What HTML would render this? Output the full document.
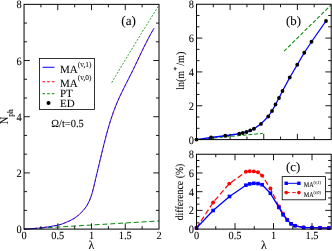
<!DOCTYPE html>
<html><head><meta charset="utf-8"><title>plot</title>
<style>
html,body{margin:0;padding:0;background:#fff;}
body{width:332px;height:251px;overflow:hidden;}
svg{display:block;font-family:"Liberation Serif",serif;fill:#000;text-rendering:geometricPrecision;}
</style></head><body>
<svg width="332" height="251" viewBox="0 0 332 251">
<rect x="0" y="0" width="332" height="251" fill="#fff"/>
<polyline points="24.05,229.10 159.00,220.95" fill="none" stroke="#008b00" stroke-width="1" stroke-dasharray="5,2.85" stroke-linejoin="round"/>
<polyline points="111.70,82.70 115.86,75.65 120.06,68.61 124.28,61.56 128.52,54.52 132.79,47.47 137.09,40.43 141.42,33.38 145.78,26.34 150.16,19.29 154.56,12.25 159.00,5.20" fill="none" stroke="#008b00" stroke-width="0.8" stroke-dasharray="2,1.5" stroke-linejoin="round"/>
<polyline points="24.05,229.10 33.00,228.60 40.90,227.90 50.00,226.60 57.80,225.20 61.50,224.20 65.00,222.80 69.50,220.90 74.00,218.50 78.50,215.20 82.90,210.90 86.01,207.00 88.34,203.00 90.14,199.00 91.55,195.00 92.71,191.00 93.73,187.00 94.68,183.00 95.62,179.00 96.56,175.00 97.50,171.00 98.45,167.00 99.41,163.00 100.37,159.00 101.34,155.00 102.30,151.00 103.28,147.00 104.27,143.00 105.29,139.00 106.34,135.00 107.43,131.00 108.57,127.00 109.77,123.00 111.04,119.00 112.38,115.00 113.81,111.00 115.33,107.00 116.95,103.00 118.68,99.00 120.51,95.00 122.43,91.00 124.41,87.00 126.43,83.00 128.47,79.00 130.49,75.00 132.49,71.00 134.43,67.00 136.34,63.00 138.24,59.00 140.13,55.00 142.04,51.00 143.98,47.00 145.97,43.00 148.03,39.00 150.17,35.00 152.41,31.00 154.00,28.30" fill="none" stroke="#ff0000" stroke-width="0.85" stroke-dasharray="3,2" stroke-linejoin="round"/>
<polyline points="24.05,229.10 33.00,228.60 40.90,227.90 50.00,226.60 57.80,225.20 61.50,224.20 65.00,222.80 69.50,220.90 74.00,218.50 78.50,215.20 82.90,210.90 86.01,207.00 88.34,203.00 90.14,199.00 91.55,195.00 92.71,191.00 93.73,187.00 94.68,183.00 95.62,179.00 96.56,175.00 97.50,171.00 98.45,167.00 99.41,163.00 100.37,159.00 101.34,155.00 102.30,151.00 103.28,147.00 104.27,143.00 105.29,139.00 106.34,135.00 107.43,131.00 108.57,127.00 109.77,123.00 111.04,119.00 112.38,115.00 113.81,111.00 115.33,107.00 116.95,103.00 118.68,99.00 120.51,95.00 122.43,91.00 124.41,87.00 126.43,83.00 128.47,79.00 130.49,75.00 132.49,71.00 134.43,67.00 136.34,63.00 138.24,59.00 140.13,55.00 142.04,51.00 143.98,47.00 145.97,43.00 148.03,39.00 150.17,35.00 152.41,31.00 154.00,28.30" fill="none" stroke="#0000ff" stroke-width="0.85" stroke-linejoin="round"/>
<rect x="24.05" y="4.35" width="134.95" height="224.75" fill="none" stroke="#000" stroke-width="1.0"/>
<line x1="57.79" y1="229.10" x2="57.79" y2="223.30" stroke="#000" stroke-width="0.9" />
<line x1="57.79" y1="4.35" x2="57.79" y2="10.15" stroke="#000" stroke-width="0.9" />
<line x1="91.52" y1="229.10" x2="91.52" y2="223.30" stroke="#000" stroke-width="0.9" />
<line x1="91.52" y1="4.35" x2="91.52" y2="10.15" stroke="#000" stroke-width="0.9" />
<line x1="125.26" y1="229.10" x2="125.26" y2="223.30" stroke="#000" stroke-width="0.9" />
<line x1="125.26" y1="4.35" x2="125.26" y2="10.15" stroke="#000" stroke-width="0.9" />
<line x1="40.92" y1="229.10" x2="40.92" y2="226.10" stroke="#000" stroke-width="0.9" />
<line x1="40.92" y1="4.35" x2="40.92" y2="7.35" stroke="#000" stroke-width="0.9" />
<line x1="74.66" y1="229.10" x2="74.66" y2="226.10" stroke="#000" stroke-width="0.9" />
<line x1="74.66" y1="4.35" x2="74.66" y2="7.35" stroke="#000" stroke-width="0.9" />
<line x1="108.39" y1="229.10" x2="108.39" y2="226.10" stroke="#000" stroke-width="0.9" />
<line x1="108.39" y1="4.35" x2="108.39" y2="7.35" stroke="#000" stroke-width="0.9" />
<line x1="142.13" y1="229.10" x2="142.13" y2="226.10" stroke="#000" stroke-width="0.9" />
<line x1="142.13" y1="4.35" x2="142.13" y2="7.35" stroke="#000" stroke-width="0.9" />
<line x1="24.05" y1="172.91" x2="29.85" y2="172.91" stroke="#000" stroke-width="0.9" />
<line x1="159.00" y1="172.91" x2="153.20" y2="172.91" stroke="#000" stroke-width="0.9" />
<line x1="24.05" y1="116.72" x2="29.85" y2="116.72" stroke="#000" stroke-width="0.9" />
<line x1="159.00" y1="116.72" x2="153.20" y2="116.72" stroke="#000" stroke-width="0.9" />
<line x1="24.05" y1="60.54" x2="29.85" y2="60.54" stroke="#000" stroke-width="0.9" />
<line x1="159.00" y1="60.54" x2="153.20" y2="60.54" stroke="#000" stroke-width="0.9" />
<line x1="24.05" y1="210.37" x2="27.05" y2="210.37" stroke="#000" stroke-width="0.9" />
<line x1="159.00" y1="210.37" x2="156.00" y2="210.37" stroke="#000" stroke-width="0.9" />
<line x1="24.05" y1="191.64" x2="27.05" y2="191.64" stroke="#000" stroke-width="0.9" />
<line x1="159.00" y1="191.64" x2="156.00" y2="191.64" stroke="#000" stroke-width="0.9" />
<line x1="24.05" y1="154.18" x2="27.05" y2="154.18" stroke="#000" stroke-width="0.9" />
<line x1="159.00" y1="154.18" x2="156.00" y2="154.18" stroke="#000" stroke-width="0.9" />
<line x1="24.05" y1="135.45" x2="27.05" y2="135.45" stroke="#000" stroke-width="0.9" />
<line x1="159.00" y1="135.45" x2="156.00" y2="135.45" stroke="#000" stroke-width="0.9" />
<line x1="24.05" y1="98.00" x2="27.05" y2="98.00" stroke="#000" stroke-width="0.9" />
<line x1="159.00" y1="98.00" x2="156.00" y2="98.00" stroke="#000" stroke-width="0.9" />
<line x1="24.05" y1="79.27" x2="27.05" y2="79.27" stroke="#000" stroke-width="0.9" />
<line x1="159.00" y1="79.27" x2="156.00" y2="79.27" stroke="#000" stroke-width="0.9" />
<line x1="24.05" y1="41.81" x2="27.05" y2="41.81" stroke="#000" stroke-width="0.9" />
<line x1="159.00" y1="41.81" x2="156.00" y2="41.81" stroke="#000" stroke-width="0.9" />
<line x1="24.05" y1="23.08" x2="27.05" y2="23.08" stroke="#000" stroke-width="0.9" />
<line x1="159.00" y1="23.08" x2="156.00" y2="23.08" stroke="#000" stroke-width="0.9" />
<rect x="39.5" y="58.4" width="55.0" height="51.0" fill="#fff" stroke="#000" stroke-width="0.8"/>
<line x1="42.50" y1="67.25" x2="54.50" y2="67.25" stroke="#0000ff" stroke-width="1" />
<line x1="42.50" y1="81.75" x2="54.50" y2="81.75" stroke="#ff0000" stroke-width="1" stroke-dasharray="2.7,1.9" />
<line x1="42.50" y1="93.75" x2="54.50" y2="93.75" stroke="#008b00" stroke-width="1" stroke-dasharray="2.7,1.9" />
<circle cx="48.5" cy="103" r="2.0" fill="#000"/>
<polyline points="196.50,139.60 262.75,133.40" fill="none" stroke="#008b00" stroke-width="1.0" stroke-dasharray="3.8,2" stroke-linejoin="round"/>
<polyline points="284.00,51.25 331.00,5.00" fill="none" stroke="#008b00" stroke-width="1.05" stroke-dasharray="3.8,2" stroke-linejoin="round"/>
<polyline points="196.50,139.60 211.00,137.50 225.25,135.75 239.25,133.75 242.75,133.00 246.50,132.00 250.25,130.40 254.00,128.75 261.00,123.90 268.25,116.50 272.00,111.00 275.50,104.50 279.00,98.00 282.50,91.00 289.75,77.50 297.25,64.75 304.25,52.75 311.50,41.75 326.00,21.00" fill="none" stroke="#0000ff" stroke-width="1.3" stroke-linejoin="round"/>
<circle cx="196.50" cy="139.60" r="1.9" fill="#000"/>
<circle cx="211.00" cy="137.50" r="1.9" fill="#000"/>
<circle cx="225.25" cy="135.75" r="1.9" fill="#000"/>
<circle cx="239.25" cy="133.75" r="1.9" fill="#000"/>
<circle cx="242.75" cy="133.00" r="1.9" fill="#000"/>
<circle cx="246.50" cy="132.00" r="1.9" fill="#000"/>
<circle cx="250.25" cy="130.40" r="1.9" fill="#000"/>
<circle cx="254.00" cy="128.75" r="1.9" fill="#000"/>
<circle cx="261.00" cy="123.90" r="1.9" fill="#000"/>
<circle cx="268.25" cy="116.50" r="1.9" fill="#000"/>
<circle cx="272.00" cy="111.00" r="1.9" fill="#000"/>
<circle cx="275.50" cy="104.50" r="1.9" fill="#000"/>
<circle cx="279.00" cy="98.00" r="1.9" fill="#000"/>
<circle cx="282.50" cy="91.00" r="1.9" fill="#000"/>
<circle cx="289.75" cy="77.50" r="1.9" fill="#000"/>
<circle cx="297.25" cy="64.75" r="1.9" fill="#000"/>
<circle cx="304.25" cy="52.75" r="1.9" fill="#000"/>
<circle cx="311.50" cy="41.75" r="1.9" fill="#000"/>
<circle cx="326.00" cy="21.00" r="1.9" fill="#000"/>
<rect x="196.50" y="4.25" width="134.70" height="135.35" fill="none" stroke="#000" stroke-width="1.0"/>
<line x1="230.12" y1="139.60" x2="230.12" y2="133.80" stroke="#000" stroke-width="0.9" />
<line x1="230.12" y1="4.25" x2="230.12" y2="10.05" stroke="#000" stroke-width="0.9" />
<line x1="263.75" y1="139.60" x2="263.75" y2="133.80" stroke="#000" stroke-width="0.9" />
<line x1="263.75" y1="4.25" x2="263.75" y2="10.05" stroke="#000" stroke-width="0.9" />
<line x1="297.38" y1="139.60" x2="297.38" y2="133.80" stroke="#000" stroke-width="0.9" />
<line x1="297.38" y1="4.25" x2="297.38" y2="10.05" stroke="#000" stroke-width="0.9" />
<line x1="213.31" y1="139.60" x2="213.31" y2="136.60" stroke="#000" stroke-width="0.9" />
<line x1="213.31" y1="4.25" x2="213.31" y2="7.25" stroke="#000" stroke-width="0.9" />
<line x1="246.94" y1="139.60" x2="246.94" y2="136.60" stroke="#000" stroke-width="0.9" />
<line x1="246.94" y1="4.25" x2="246.94" y2="7.25" stroke="#000" stroke-width="0.9" />
<line x1="280.56" y1="139.60" x2="280.56" y2="136.60" stroke="#000" stroke-width="0.9" />
<line x1="280.56" y1="4.25" x2="280.56" y2="7.25" stroke="#000" stroke-width="0.9" />
<line x1="314.19" y1="139.60" x2="314.19" y2="136.60" stroke="#000" stroke-width="0.9" />
<line x1="314.19" y1="4.25" x2="314.19" y2="7.25" stroke="#000" stroke-width="0.9" />
<line x1="196.50" y1="105.76" x2="202.30" y2="105.76" stroke="#000" stroke-width="0.9" />
<line x1="331.20" y1="105.76" x2="325.40" y2="105.76" stroke="#000" stroke-width="0.9" />
<line x1="196.50" y1="71.92" x2="202.30" y2="71.92" stroke="#000" stroke-width="0.9" />
<line x1="331.20" y1="71.92" x2="325.40" y2="71.92" stroke="#000" stroke-width="0.9" />
<line x1="196.50" y1="38.09" x2="202.30" y2="38.09" stroke="#000" stroke-width="0.9" />
<line x1="331.20" y1="38.09" x2="325.40" y2="38.09" stroke="#000" stroke-width="0.9" />
<line x1="196.50" y1="128.32" x2="199.50" y2="128.32" stroke="#000" stroke-width="0.9" />
<line x1="331.20" y1="128.32" x2="328.20" y2="128.32" stroke="#000" stroke-width="0.9" />
<line x1="196.50" y1="117.04" x2="199.50" y2="117.04" stroke="#000" stroke-width="0.9" />
<line x1="331.20" y1="117.04" x2="328.20" y2="117.04" stroke="#000" stroke-width="0.9" />
<line x1="196.50" y1="94.48" x2="199.50" y2="94.48" stroke="#000" stroke-width="0.9" />
<line x1="331.20" y1="94.48" x2="328.20" y2="94.48" stroke="#000" stroke-width="0.9" />
<line x1="196.50" y1="83.20" x2="199.50" y2="83.20" stroke="#000" stroke-width="0.9" />
<line x1="331.20" y1="83.20" x2="328.20" y2="83.20" stroke="#000" stroke-width="0.9" />
<line x1="196.50" y1="60.65" x2="199.50" y2="60.65" stroke="#000" stroke-width="0.9" />
<line x1="331.20" y1="60.65" x2="328.20" y2="60.65" stroke="#000" stroke-width="0.9" />
<line x1="196.50" y1="49.37" x2="199.50" y2="49.37" stroke="#000" stroke-width="0.9" />
<line x1="331.20" y1="49.37" x2="328.20" y2="49.37" stroke="#000" stroke-width="0.9" />
<line x1="196.50" y1="26.81" x2="199.50" y2="26.81" stroke="#000" stroke-width="0.9" />
<line x1="331.20" y1="26.81" x2="328.20" y2="26.81" stroke="#000" stroke-width="0.9" />
<line x1="196.50" y1="15.53" x2="199.50" y2="15.53" stroke="#000" stroke-width="0.9" />
<line x1="331.20" y1="15.53" x2="328.20" y2="15.53" stroke="#000" stroke-width="0.9" />
<polyline points="196.50,228.00 213.10,202.50 229.30,183.60 245.90,171.80 249.70,171.20 253.80,171.40 258.00,172.30 262.10,175.60 270.40,188.40 278.90,206.40 283.10,213.80 287.30,219.60 291.10,223.60 295.10,225.60 303.60,227.40 312.00,227.70 320.00,227.80 328.90,228.00" fill="none" stroke="#ff0000" stroke-width="1.2" stroke-dasharray="5.5,2.7" stroke-linejoin="round"/>
<circle cx="196.50" cy="228.00" r="1.95" fill="#ff0000"/>
<circle cx="213.10" cy="202.50" r="1.95" fill="#ff0000"/>
<circle cx="229.30" cy="183.60" r="1.95" fill="#ff0000"/>
<circle cx="245.90" cy="171.80" r="1.95" fill="#ff0000"/>
<circle cx="249.70" cy="171.20" r="1.95" fill="#ff0000"/>
<circle cx="253.80" cy="171.40" r="1.95" fill="#ff0000"/>
<circle cx="258.00" cy="172.30" r="1.95" fill="#ff0000"/>
<circle cx="262.10" cy="175.60" r="1.95" fill="#ff0000"/>
<circle cx="270.40" cy="188.40" r="1.95" fill="#ff0000"/>
<circle cx="278.90" cy="206.40" r="1.95" fill="#ff0000"/>
<circle cx="283.10" cy="213.80" r="1.95" fill="#ff0000"/>
<circle cx="287.30" cy="219.60" r="1.95" fill="#ff0000"/>
<circle cx="291.10" cy="223.60" r="1.95" fill="#ff0000"/>
<circle cx="295.10" cy="225.60" r="1.95" fill="#ff0000"/>
<circle cx="303.60" cy="227.40" r="1.95" fill="#ff0000"/>
<circle cx="312.00" cy="227.70" r="1.95" fill="#ff0000"/>
<circle cx="320.00" cy="227.80" r="1.95" fill="#ff0000"/>
<circle cx="328.90" cy="228.00" r="1.95" fill="#ff0000"/>
<polyline points="196.50,228.00 213.10,210.50 229.50,196.50 245.90,185.20 249.70,183.90 253.80,183.30 258.00,183.60 262.10,184.70 270.40,193.30 278.90,207.40 283.10,214.80 287.30,220.10 291.10,223.90 295.10,225.80 303.60,227.50 312.00,227.70 320.00,227.80 328.90,228.00" fill="none" stroke="#0000ff" stroke-width="1.3" stroke-linejoin="round"/>
<rect x="194.70" y="226.20" width="3.6" height="3.6" fill="#0000ff"/>
<rect x="211.30" y="208.70" width="3.6" height="3.6" fill="#0000ff"/>
<rect x="227.70" y="194.70" width="3.6" height="3.6" fill="#0000ff"/>
<rect x="244.10" y="183.40" width="3.6" height="3.6" fill="#0000ff"/>
<rect x="247.90" y="182.10" width="3.6" height="3.6" fill="#0000ff"/>
<rect x="252.00" y="181.50" width="3.6" height="3.6" fill="#0000ff"/>
<rect x="256.20" y="181.80" width="3.6" height="3.6" fill="#0000ff"/>
<rect x="260.30" y="182.90" width="3.6" height="3.6" fill="#0000ff"/>
<rect x="268.60" y="191.50" width="3.6" height="3.6" fill="#0000ff"/>
<rect x="277.10" y="205.60" width="3.6" height="3.6" fill="#0000ff"/>
<rect x="281.30" y="213.00" width="3.6" height="3.6" fill="#0000ff"/>
<rect x="285.50" y="218.30" width="3.6" height="3.6" fill="#0000ff"/>
<rect x="289.30" y="222.10" width="3.6" height="3.6" fill="#0000ff"/>
<rect x="293.30" y="224.00" width="3.6" height="3.6" fill="#0000ff"/>
<rect x="301.80" y="225.70" width="3.6" height="3.6" fill="#0000ff"/>
<rect x="310.20" y="225.90" width="3.6" height="3.6" fill="#0000ff"/>
<rect x="318.20" y="226.00" width="3.6" height="3.6" fill="#0000ff"/>
<rect x="327.10" y="226.20" width="3.6" height="3.6" fill="#0000ff"/>
<rect x="196.50" y="154.25" width="134.70" height="74.85" fill="none" stroke="#000" stroke-width="1.0"/>
<line x1="235.00" y1="229.10" x2="235.00" y2="223.10" stroke="#000" stroke-width="0.9" />
<line x1="235.00" y1="154.25" x2="235.00" y2="160.25" stroke="#000" stroke-width="0.9" />
<line x1="273.50" y1="229.10" x2="273.50" y2="223.10" stroke="#000" stroke-width="0.9" />
<line x1="273.50" y1="154.25" x2="273.50" y2="160.25" stroke="#000" stroke-width="0.9" />
<line x1="312.00" y1="229.10" x2="312.00" y2="223.10" stroke="#000" stroke-width="0.9" />
<line x1="312.00" y1="154.25" x2="312.00" y2="160.25" stroke="#000" stroke-width="0.9" />
<line x1="215.75" y1="229.10" x2="215.75" y2="226.10" stroke="#000" stroke-width="0.9" />
<line x1="215.75" y1="154.25" x2="215.75" y2="157.25" stroke="#000" stroke-width="0.9" />
<line x1="254.25" y1="229.10" x2="254.25" y2="226.10" stroke="#000" stroke-width="0.9" />
<line x1="254.25" y1="154.25" x2="254.25" y2="157.25" stroke="#000" stroke-width="0.9" />
<line x1="292.75" y1="229.10" x2="292.75" y2="226.10" stroke="#000" stroke-width="0.9" />
<line x1="292.75" y1="154.25" x2="292.75" y2="157.25" stroke="#000" stroke-width="0.9" />
<line x1="196.50" y1="210.39" x2="202.50" y2="210.39" stroke="#000" stroke-width="0.9" />
<line x1="331.20" y1="210.39" x2="325.20" y2="210.39" stroke="#000" stroke-width="0.9" />
<line x1="196.50" y1="191.68" x2="202.50" y2="191.68" stroke="#000" stroke-width="0.9" />
<line x1="331.20" y1="191.68" x2="325.20" y2="191.68" stroke="#000" stroke-width="0.9" />
<line x1="196.50" y1="172.96" x2="202.50" y2="172.96" stroke="#000" stroke-width="0.9" />
<line x1="331.20" y1="172.96" x2="325.20" y2="172.96" stroke="#000" stroke-width="0.9" />
<line x1="196.50" y1="222.86" x2="199.50" y2="222.86" stroke="#000" stroke-width="0.9" />
<line x1="331.20" y1="222.86" x2="328.20" y2="222.86" stroke="#000" stroke-width="0.9" />
<line x1="196.50" y1="216.62" x2="199.50" y2="216.62" stroke="#000" stroke-width="0.9" />
<line x1="331.20" y1="216.62" x2="328.20" y2="216.62" stroke="#000" stroke-width="0.9" />
<line x1="196.50" y1="204.15" x2="199.50" y2="204.15" stroke="#000" stroke-width="0.9" />
<line x1="331.20" y1="204.15" x2="328.20" y2="204.15" stroke="#000" stroke-width="0.9" />
<line x1="196.50" y1="197.91" x2="199.50" y2="197.91" stroke="#000" stroke-width="0.9" />
<line x1="331.20" y1="197.91" x2="328.20" y2="197.91" stroke="#000" stroke-width="0.9" />
<line x1="196.50" y1="185.44" x2="199.50" y2="185.44" stroke="#000" stroke-width="0.9" />
<line x1="331.20" y1="185.44" x2="328.20" y2="185.44" stroke="#000" stroke-width="0.9" />
<line x1="196.50" y1="179.20" x2="199.50" y2="179.20" stroke="#000" stroke-width="0.9" />
<line x1="331.20" y1="179.20" x2="328.20" y2="179.20" stroke="#000" stroke-width="0.9" />
<line x1="196.50" y1="166.72" x2="199.50" y2="166.72" stroke="#000" stroke-width="0.9" />
<line x1="331.20" y1="166.72" x2="328.20" y2="166.72" stroke="#000" stroke-width="0.9" />
<line x1="196.50" y1="160.49" x2="199.50" y2="160.49" stroke="#000" stroke-width="0.9" />
<line x1="331.20" y1="160.49" x2="328.20" y2="160.49" stroke="#000" stroke-width="0.9" />
<rect x="282.2" y="176.6" width="43.2" height="23.2" fill="#fff" stroke="#000" stroke-width="0.8"/>
<line x1="286.20" y1="183.30" x2="298.90" y2="183.30" stroke="#0000ff" stroke-width="1" />
<rect x="284.50" y="181.60" width="3.4" height="3.4" fill="#0000ff"/>
<rect x="297.20" y="181.60" width="3.4" height="3.4" fill="#0000ff"/>
<line x1="286.20" y1="192.60" x2="298.90" y2="192.60" stroke="#ff0000" stroke-width="1" stroke-dasharray="3.5,2.5" />
<circle cx="286.20" cy="192.6" r="1.8" fill="#ff0000"/>
<circle cx="298.90" cy="192.6" r="1.8" fill="#ff0000"/>
<g style="will-change:transform;filter:grayscale(1)" stroke="#000" stroke-width="0.07">
<text transform="translate(21.65,233.10) scale(0.92,1)" font-size="11.3" text-anchor="end" >0</text>
<text transform="translate(21.65,176.91) scale(0.92,1)" font-size="11.3" text-anchor="end" >2</text>
<text transform="translate(21.65,120.72) scale(0.92,1)" font-size="11.3" text-anchor="end" >4</text>
<text transform="translate(21.65,64.54) scale(0.92,1)" font-size="11.3" text-anchor="end" >6</text>
<text transform="translate(21.65,8.35) scale(0.92,1)" font-size="11.3" text-anchor="end" >8</text>
<text transform="translate(24.05,238.80) scale(0.94,1)" font-size="11.0" text-anchor="middle" >0</text>
<text transform="translate(57.79,238.80) scale(0.94,1)" font-size="11.0" text-anchor="middle" >0.5</text>
<text transform="translate(91.52,238.80) scale(0.94,1)" font-size="11.0" text-anchor="middle" >1</text>
<text transform="translate(125.26,238.80) scale(0.94,1)" font-size="11.0" text-anchor="middle" >1.5</text>
<text transform="translate(159.00,238.80) scale(0.94,1)" font-size="11.0" text-anchor="middle" >2</text>
<text transform="translate(91.50,248.90) scale(1.0,1)" font-size="12" text-anchor="middle" >λ</text>
<text transform="translate(121.30,25.20) scale(1.0,1)" font-size="13.2" text-anchor="start" >(a)</text>
<text transform="translate(51.30,127.20) scale(0.95,1)" font-size="11" text-anchor="start" >Ω/t=0.5</text>
<text transform="translate(8.30,116.70) rotate(-90) scale(0.87,1)" font-size="12" text-anchor="middle" >N<tspan font-size="8.6" dy="4.8">ph</tspan></text>
<text transform="translate(60.00,73.45) scale(1.0,1)" font-size="11" text-anchor="start" >MA<tspan font-size="7.4" dy="-6.6">(v,1)</tspan></text>
<text transform="translate(60.00,86.80) scale(1.0,1)" font-size="11" text-anchor="start" >MA<tspan font-size="7.4" dy="-6.6">(v,0)</tspan></text>
<text transform="translate(60.00,97.00) scale(1.0,1)" font-size="11" text-anchor="start" >PT</text>
<text transform="translate(60.00,106.50) scale(1.0,1)" font-size="11" text-anchor="start" >ED</text>
<text transform="translate(193.90,143.60) scale(0.92,1)" font-size="11.3" text-anchor="end" >0</text>
<text transform="translate(193.90,109.76) scale(0.92,1)" font-size="11.3" text-anchor="end" >2</text>
<text transform="translate(193.90,75.92) scale(0.92,1)" font-size="11.3" text-anchor="end" >4</text>
<text transform="translate(193.90,42.09) scale(0.92,1)" font-size="11.3" text-anchor="end" >6</text>
<text transform="translate(193.90,8.25) scale(0.92,1)" font-size="11.3" text-anchor="end" >8</text>
<text transform="translate(286.00,25.20) scale(1.0,1)" font-size="12.8" text-anchor="start" >(b)</text>
<text transform="translate(184.00,70.80) rotate(-90) scale(0.9,1)" font-size="11.2" text-anchor="middle" >ln(m<tspan font-size="8" dy="-5.5" dx="0.3">*</tspan><tspan dy="5.5" dx="1.4">/m)</tspan></text>
<text transform="translate(193.90,233.10) scale(0.92,1)" font-size="11.3" text-anchor="end" >0</text>
<text transform="translate(193.90,214.39) scale(0.92,1)" font-size="11.3" text-anchor="end" >2</text>
<text transform="translate(193.90,195.68) scale(0.92,1)" font-size="11.3" text-anchor="end" >4</text>
<text transform="translate(193.90,176.96) scale(0.92,1)" font-size="11.3" text-anchor="end" >6</text>
<text transform="translate(193.90,158.25) scale(0.92,1)" font-size="11.3" text-anchor="end" >8</text>
<text transform="translate(196.50,238.80) scale(0.94,1)" font-size="11.0" text-anchor="middle" >0</text>
<text transform="translate(235.00,238.80) scale(0.94,1)" font-size="11.0" text-anchor="middle" >0.5</text>
<text transform="translate(273.50,238.80) scale(0.94,1)" font-size="11.0" text-anchor="middle" >1</text>
<text transform="translate(312.00,238.80) scale(0.94,1)" font-size="11.0" text-anchor="middle" >1.5</text>
<text transform="translate(263.90,249.40) scale(1.0,1)" font-size="12" text-anchor="middle" >λ</text>
<text transform="translate(286.00,171.20) scale(1.0,1)" font-size="12.8" text-anchor="start" >(c)</text>
<text transform="translate(182.60,192.00) rotate(-90) scale(0.89,1)" font-size="11" text-anchor="middle" >difference (%)</text>
<text transform="translate(303.70,187.00) scale(0.84,1)" font-size="7.3" text-anchor="start" >MA<tspan font-size="4.6" dy="-3">(v,1)</tspan></text>
<text transform="translate(303.70,196.80) scale(0.84,1)" font-size="7.3" text-anchor="start" >MA<tspan font-size="4.6" dy="-3">(v,0)</tspan></text>
</g>
</svg>
</body></html>
